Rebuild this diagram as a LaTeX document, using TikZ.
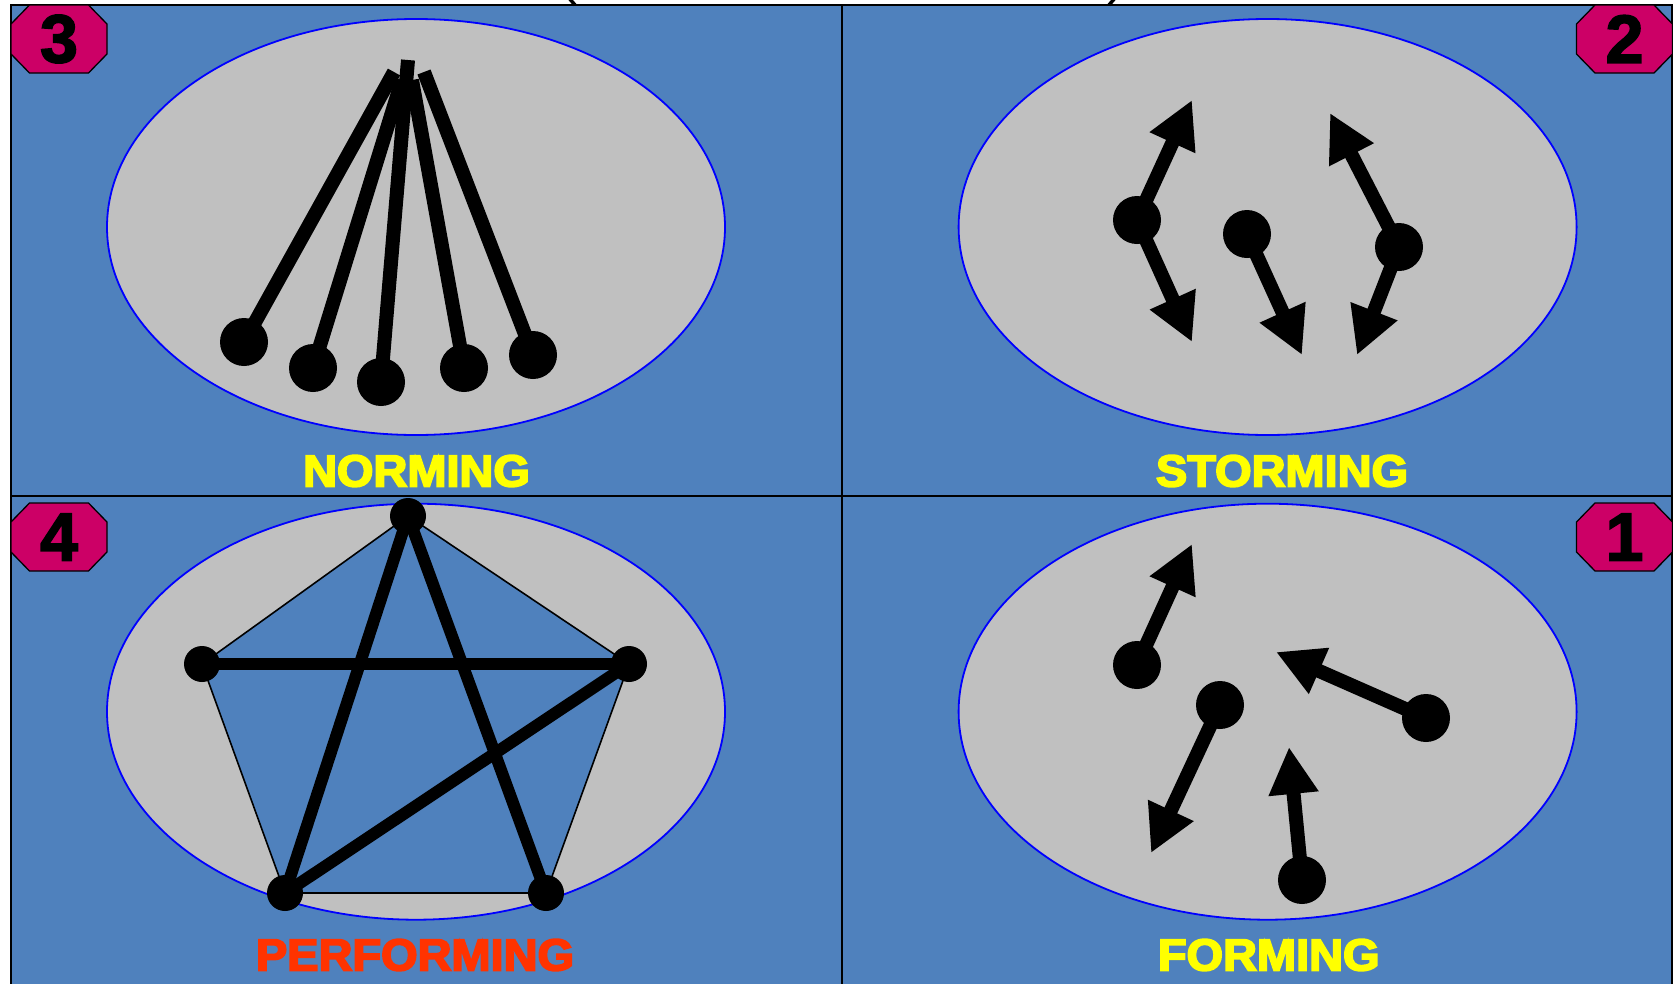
\documentclass[tikz,border=0pt]{standalone}
\usepackage{fontspec}
\newfontfamily\badgefont{Liberation Sans Bold}[FakeBold=2.5]
\newfontfamily\stagefont{Liberation Sans Bold}[FakeBold=4]
\usetikzlibrary{arrows.meta}

\definecolor{panelblue}{HTML}{4F81BD}
\definecolor{discgray}{HTML}{C0C0C0}
\definecolor{discline}{HTML}{0000FF}
\definecolor{badgered}{HTML}{CC0066}
\definecolor{stageyellow}{HTML}{FFFF00}
\definecolor{stagered}{HTML}{FF3300}

\pgfdeclarelayer{back}
\pgfdeclarelayer{links}
\pgfsetlayers{back,links,main}

\tikzset{
  disc/.style={fill=discgray, draw=discline, line width=1.8pt},
  ball/.style={circle, fill=black, minimum size=48pt, inner sep=0pt},
  smallball/.style={circle, fill=black, minimum size=36pt, inner sep=0pt},
  spoke/.style={line width=14pt, line cap=butt},
  push/.style={line width=14pt, -{Triangle[length=47pt, width=47pt]}},
  bond/.style={line width=12pt},
  rim/.style={line width=1.6pt, draw=black, fill=panelblue, line join=miter},
  badge/.style={rectangle, minimum width=96pt, minimum height=68pt,
    inner sep=0pt, font=\badgefont\fontsize{68}{68}\selectfont},
  octagon/.style={fill=badgered, draw=black, line width=1.3pt, line join=miter},
  stage/.style={inner sep=0pt, font=\stagefont\fontsize{44.7}{44.7}\selectfont},
}

\newcommand{\wide}[1]{\scalebox{1.05}[1]{#1}}
% octagonal plate behind a badge node
\newcommand{\plate}[1]{%
  \filldraw[octagon, shift={(#1.center)}] (-29.5,-34) -- (29.5,-34) -- (48,-15)
    -- (48,15) -- (29.5,34) -- (-29.5,34) -- (-48,15) -- (-48,-15) -- cycle;}

\begin{document}
\begin{tikzpicture}[x=1pt, y=-1pt]
\useasboundingbox (0,0) rectangle (1673,983);

% frame, quadrants and discs
\begin{pgfonlayer}{back}
  \fill[white] (0,0) rectangle (1673,983);
  \fill[panelblue] (10.7,5.3) rectangle (1672,990);
  \draw[line width=2pt] (10.7,990) -- (10.7,5.3) -- (1672,5.3) -- (1672,990);
  \draw[line width=2pt] (842,5.3) -- (842,990);
  \draw[line width=2pt] (10.7,496) -- (1672,496);
  % lower ends of the title brackets
  \draw[line width=3.5pt] (569,-2) -- (575,5);
  \draw[line width=3.5pt] (1115,-2) -- (1109,5);
  \draw[disc] (416,227) ellipse [x radius=309, y radius=208];
  \draw[disc] (1267.6,227) ellipse [x radius=309, y radius=208];
  \draw[disc] (416,711.7) ellipse [x radius=309, y radius=208];
  \draw[disc] (1267.6,711.7) ellipse [x radius=309, y radius=208];
\end{pgfonlayer}

% stage badges
\node[badge] (b3) at (59,39) {3};
\node[badge] (b2) at (1624.5,39) {2};
\node[badge] (b4) at (59,537) {4};
\node[badge] (b1) at (1624.5,537) {1};
\begin{pgfonlayer}{links}
  \plate{b3}\plate{b2}\plate{b4}\plate{b1}
\end{pgfonlayer}

% stage names
\node[stage, text=stageyellow] (lnorm) at (416.5,471) {\wide{NORMING}};
\node[stage, text=stageyellow] (lstorm) at (1282,471) {\wide{STORMING}};
\node[stage, text=stagered] (lperf) at (415,955) {\wide{PERFORMING}};
\node[stage, text=stageyellow] (lform) at (1268.7,955) {\wide{FORMING}};

% NORMING: five members joined at one point
\node[ball] (n1) at (244,342) {};
\node[ball] (n2) at (313,368) {};
\node[ball] (n3) at (381,382) {};
\node[ball] (n4) at (464,368) {};
\node[ball] (n5) at (533,355) {};
\coordinate (t1) at (394,72);
\coordinate (t2) at (402,80);
\coordinate (t3) at (408,60);
\coordinate (t4) at (412,80);
\coordinate (t5) at (424,72);
\begin{pgfonlayer}{links}
  \draw[spoke] (n2.center) -- (t2);
  \draw[spoke] (n4.center) -- (t4);
  \draw[spoke] (n1.center) -- (t1);
  \draw[spoke] (n5.center) -- (t5);
  \draw[spoke] (n3.center) -- (t3);
\end{pgfonlayer}

% STORMING: members pulling apart
\node[ball] (sa) at (1137,220) {};
\node[ball] (sb) at (1247,234) {};
\node[ball] (sc) at (1399,247) {};
\coordinate (sau) at (1192,100);
\coordinate (sad) at (1192,342);
\coordinate (sbd) at (1302,355);
\coordinate (scu) at (1330,113);
\coordinate (scd) at (1357,355);
\begin{pgfonlayer}{links}
  \draw[push] (sa.center) -- (sau);
  \draw[push] (sa.center) -- (sad);
  \draw[push] (sb.center) -- (sbd);
  \draw[push] (sc.center) -- (scu);
  \draw[push] (sc.center) -- (scd);
\end{pgfonlayer}

% FORMING: members moving on their own
\node[ball] (fd) at (1137,665) {};
\node[ball] (fe) at (1220,705) {};
\node[ball] (ff) at (1426,718) {};
\node[ball] (fg) at (1302,880) {};
\coordinate (fdt) at (1192,544);
\coordinate (fet) at (1151,853);
\coordinate (fft) at (1276,652);
\coordinate (fgt) at (1289,747);
\begin{pgfonlayer}{links}
  \draw[push] (fd.center) -- (fdt);
  \draw[push] (fe.center) -- (fet);
  \draw[push] (ff.center) -- (fft);
  \draw[push] (fg.center) -- (fgt);
\end{pgfonlayer}

% PERFORMING: a connected team
\node[smallball] (p1) at (408,516) {};
\node[smallball] (p2) at (202,664) {};
\node[smallball] (p3) at (629,664) {};
\node[smallball] (p4) at (285,893) {};
\node[smallball] (p5) at (546,893) {};
\begin{pgfonlayer}{links}
  \filldraw[rim] (p1.center) -- (p3.center) -- (p5.center) -- (p4.center)
    -- (p2.center) -- cycle;
  \draw[bond] (p1.center) -- (p4.center);
  \draw[bond] (p1.center) -- (p5.center);
  \draw[bond] (p2.center) -- (p3.center);
  \draw[bond] (p3.center) -- (p4.center);
\end{pgfonlayer}
\end{tikzpicture}
\end{document}
